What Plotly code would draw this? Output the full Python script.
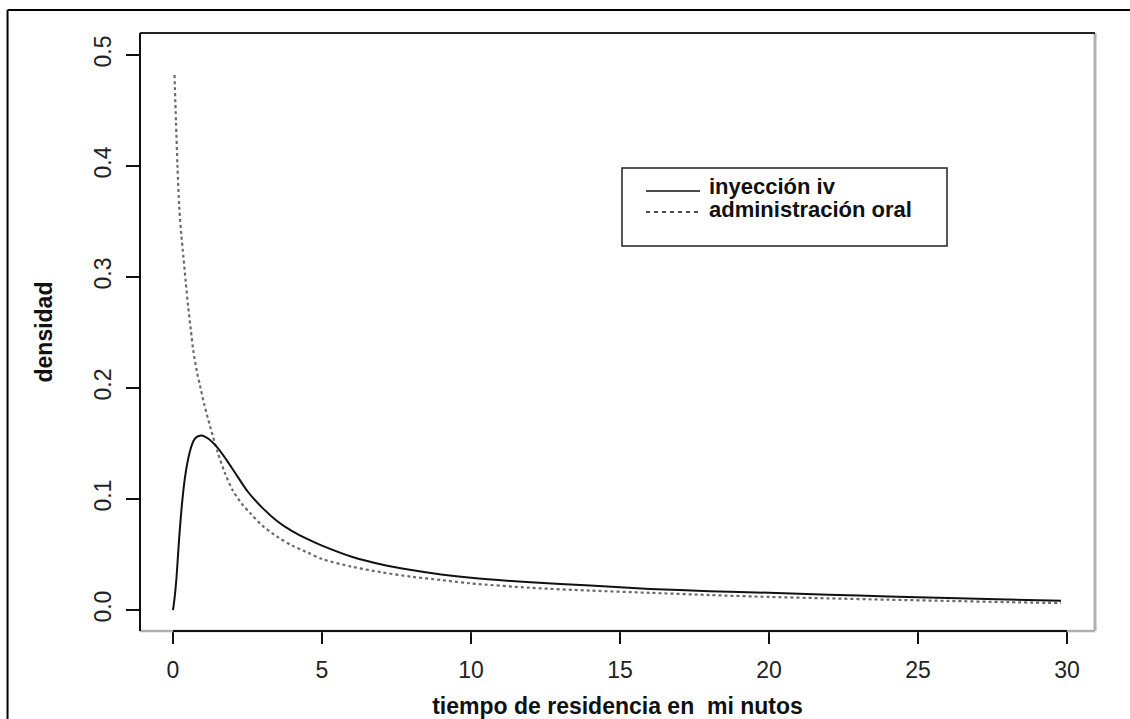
import plotly.graph_objects as go

# Residence-time densities (minutes)
iv_x = [0, 0.05, 0.12, 0.2, 0.3, 0.4, 0.5, 0.6, 0.7, 0.8, 0.9, 1.0, 1.2, 1.5, 1.8,
        2.1, 2.5, 3.0, 3.5, 4.0, 4.5, 5.0, 6.0, 7.0, 8.0, 9.0, 10.0, 12.0, 14.0, 16.0,
        18.0, 20.0, 22.0, 24.0, 26.0, 28.0, 29.8]
iv_y = [0.0, 0.010, 0.030, 0.062, 0.095, 0.119, 0.135, 0.146, 0.153, 0.156, 0.157,
        0.157, 0.154, 0.146, 0.135, 0.123, 0.107, 0.092, 0.080, 0.071, 0.064, 0.058,
        0.048, 0.041, 0.036, 0.032, 0.029, 0.025, 0.022, 0.019, 0.017, 0.0155, 0.0138,
        0.0122, 0.0108, 0.0095, 0.0084]

oral_x = [0.05, 0.1, 0.15, 0.21, 0.28, 0.35, 0.43, 0.51, 0.6, 0.68, 0.8, 0.9, 1.05,
          1.24, 1.5, 1.75, 2.0, 2.3, 2.6, 3.0, 3.5, 4.0, 4.5, 5.0, 6.0, 7.0, 8.0, 9.0,
          10.0, 12.0, 14.0, 16.0, 18.0, 20.0, 22.0, 24.0, 26.0, 28.0, 29.8]
oral_y = [0.482, 0.440, 0.400, 0.363, 0.338, 0.318, 0.295, 0.273, 0.252, 0.234, 0.215,
          0.203, 0.185, 0.166, 0.142, 0.123, 0.108, 0.096, 0.087, 0.076, 0.066, 0.058,
          0.052, 0.046, 0.039, 0.034, 0.030, 0.027, 0.024, 0.020, 0.0175, 0.0155,
          0.0135, 0.0118, 0.0105, 0.0093, 0.0082, 0.0071, 0.0062]

x_ticks = [0, 5, 10, 15, 20, 25, 30]
x_tick_labels = ["0", "5", "10", "15", "20", "25", "30"]
y_ticks = [0.0, 0.1, 0.2, 0.3, 0.4, 0.5]
y_tick_labels = ["0.0", "0.1", "0.2", "0.3", "0.4", "0.5"]

series_names = ["inyección iv", "administración oral"]

FONT = "Liberation Sans, Arial, sans-serif"

fig = go.Figure()
fig.add_trace(go.Scatter(
    x=oral_x, y=oral_y, mode="lines", name=series_names[1],
    line=dict(color="#6a6a6a", width=2.2, dash="dot", shape="spline", smoothing=0.8),
    showlegend=False))
fig.add_trace(go.Scatter(
    x=iv_x, y=iv_y, mode="lines", name=series_names[0],
    line=dict(color="#111111", width=2, shape="spline", smoothing=0.8),
    showlegend=False))

shapes = [
    # outer frame
    dict(type="line", xref="paper", yref="paper", x0=-0.1386, x1=1.04, y0=1.0385, y1=1.0385,
         line=dict(color="black", width=2)),
    dict(type="line", xref="paper", yref="paper", x0=-0.1387, x1=-0.1387, y0=1.0385, y1=-0.16,
         line=dict(color="black", width=2)),
    # plot box: dark left/top, grey right/bottom
    dict(type="line", xref="paper", yref="paper", x0=0, x1=1, y0=0, y1=0,
         line=dict(color="#b0b0b0", width=2.5)),
    dict(type="line", xref="paper", yref="paper", x0=1, x1=1, y0=0, y1=1,
         line=dict(color="#b0b0b0", width=3)),
    dict(type="line", xref="paper", yref="paper", x0=0, x1=1, y0=1, y1=1,
         line=dict(color="#222222", width=2)),
    dict(type="line", xref="paper", yref="paper", x0=0, x1=0, y0=0, y1=1,
         line=dict(color="#111111", width=2)),
    # x axis line spanning the tick range
    dict(type="line", xref="x", yref="paper", x0=x_ticks[0], x1=x_ticks[-1], y0=0, y1=0,
         line=dict(color="#111111", width=2)),
]

# legend box
lx0, lx1 = (622 - 140) / 955, (947 - 140) / 955
ly0, ly1 = (631 - 246) / 598, (631 - 168) / 598
shapes.append(dict(type="rect", xref="paper", yref="paper", x0=lx0, x1=lx1, y0=ly0, y1=ly1,
                   line=dict(color="#222222", width=1.5), fillcolor="white"))
sx0, sx1 = (646 - 140) / 955, (700 - 140) / 955
for ypix, dash in [(191, "solid"), (212, "4px,4px")]:
    yy = (631 - ypix) / 598
    shapes.append(dict(type="line", xref="paper", yref="paper", x0=sx0, x1=sx1, y0=yy, y1=yy,
                       line=dict(color="#111111", width=1.6, dash=dash)))

annotations = []
for ypix, name in [(186, series_names[0]), (209, series_names[1])]:
    annotations.append(dict(xref="paper", yref="paper", x=(707 - 140) / 955,
                            y=(631 - ypix) / 598, text="<b>%s</b>" % name, showarrow=False,
                            xanchor="left", yanchor="middle",
                            font=dict(family=FONT, size=22, color="#111111")))

fig.update_layout(
    width=1130, height=719,
    margin=dict(l=140, r=35, t=33, b=88, autoexpand=False),
    paper_bgcolor="white", plot_bgcolor="white",
    shapes=shapes, annotations=annotations,
    font=dict(family=FONT, color="#222222"),
    xaxis=dict(range=[-1.107, 30.94], showgrid=False, zeroline=False, showline=False,
               automargin=False,
               tickmode="array", tickvals=x_ticks, ticktext=x_tick_labels,
               ticks="outside", ticklen=12, tickwidth=2, tickcolor="#111111",
               ticklabelstandoff=6,
               tickfont=dict(family=FONT, size=23, color="#222222"),
               title=dict(text="<b>tiempo de residencia en\u00a0\u00a0mi nutos</b>",
                          font=dict(family=FONT, size=23, color="#111111"), standoff=20)),
    yaxis=dict(range=[-0.0189, 0.5198], showgrid=False, zeroline=False, showline=False,
               automargin=False,
               tickmode="array", tickvals=y_ticks, ticktext=y_tick_labels,
               ticks="outside", ticklen=13, tickwidth=2, tickcolor="#111111",
               tickangle=-90, ticklabelstandoff=6,
               tickfont=dict(family=FONT, size=23, color="#222222"),
               title=dict(text="<b>densidad</b>",
                          font=dict(family=FONT, size=23, color="#111111"), standoff=30)),
)

fig.write_html("out.html")
